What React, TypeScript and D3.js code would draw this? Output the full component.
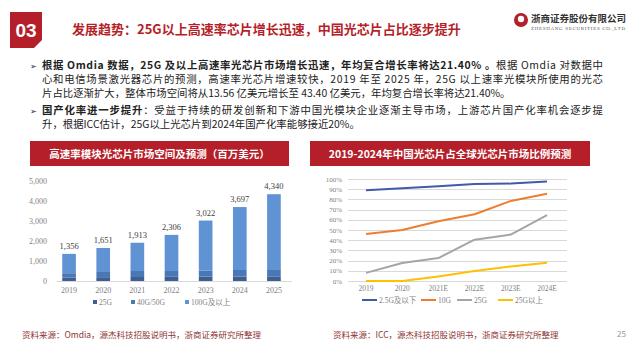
import React, { useEffect, useRef } from 'react';
import * as d3 from 'd3';

// 左图：高速率模块光芯片市场空间（百万美元）
const years = ['2019', '2020', '2021', '2022', '2023', '2024', '2025'];
const totals = [1356, 1651, 1913, 2306, 3022, 3697, 4340];
const g25 = [170, 190, 200, 210, 220, 220, 210];
const g40 = [220, 260, 300, 290, 310, 330, 380];
const stackKeys = ['25G', '40G/50G', '100G及以上'];
const leftTicks = [0, 1000, 2000, 3000, 4000, 5000];

// 右图：中国光芯片占全球比例
const years2 = ['2019', '2020', '2021E', '2022E', '2023E', '2024E'];
const share25Below = [0.89, 0.91, 0.93, 0.95, 0.955, 0.975];
const share10G = [0.46, 0.50, 0.585, 0.655, 0.785, 0.855];
const share25G = [0.08, 0.177, 0.225, 0.405, 0.455, 0.645];
const share25Above = [0, 0, 0.045, 0.097, 0.143, 0.18];
const seriesNames = ['2.5G及以下', '10G', '25G', '25G以上'];

const RED = '#b51f29';
const CJK = '"Noto Sans CJK SC", "Noto Sans", sans-serif';
const SERIF = '"Liberation Serif", "Noto Sans CJK SC", serif';

const App = () => {
  const svgRef = useRef(null);

  useEffect(() => {
    const svg = d3.select(svgRef.current);
    svg.selectAll('*').remove();
    const width = 640;
    const height = 359;
    svg.attr('width', width).attr('height', height);

    svg.append('rect').attr('width', width).attr('height', height).attr('fill', '#fff');

    // 页眉
    svg.append('path')
      .attr('d', 'M10,12 L42,12 L42,40 L34,48 L10,48 Z')
      .attr('fill', RED);
    svg.append('text')
      .attr('x', 26).attr('y', 37)
      .attr('text-anchor', 'middle')
      .attr('fill', '#fff')
      .style('font-family', '"Liberation Sans", Arial, sans-serif')
      .style('font-size', '19px')
      .style('font-weight', 'bold')
      .text('03');
    svg.append('text')
      .attr('x', 72).attr('y', 34)
      .attr('fill', RED)
      .style('font-family', CJK)
      .style('font-size', '13px')
      .style('font-weight', 'bold')
      .text('发展趋势：25G以上高速率芯片增长迅速，中国光芯片占比逐步提升');

    // logo
    svg.append('circle').attr('cx', 521).attr('cy', 20).attr('r', 7).attr('fill', RED);
    svg.append('circle').attr('cx', 521).attr('cy', 19).attr('r', 3.2).attr('fill', '#fff');
    svg.append('text')
      .attr('x', 531).attr('y', 22)
      .attr('fill', '#333')
      .style('font-family', CJK)
      .style('font-size', '9.5px')
      .style('font-weight', 'bold')
      .text('浙商证券股份有限公司');
    svg.append('text')
      .attr('x', 531).attr('y', 29.5)
      .attr('fill', '#555')
      .attr('textLength', 94)
      .style('font-family', SERIF)
      .style('font-size', '5px')
      .text('ZHESHANG SECURITIES CO.,LTD');

    // 正文
    const body = svg.append('g')
      .style('font-family', CJK)
      .style('font-size', '10.4px')
      .attr('fill', '#222');
    const lines = [
      { y: 69, bullet: true, parts: [['根据 Omdia 数据，25G 及以上高速率光芯片市场增长迅速，年均复合增长率将达21.40% 。', true], ['根据 Omdia 对数据中', false]], fit: 561 },
      { y: 83, parts: [['心和电信场景激光器芯片的预测，高速率光芯片增速较快，2019 年至 2025 年，25G 以上速率光模块所使用的光芯', false]], fit: 561 },
      { y: 97, parts: [['片占比逐渐扩大，整体市场空间将从13.56 亿美元增长至 43.40 亿美元，年均复合增长率将达21.40%。', false]] },
      { y: 114, bullet: true, parts: [['国产化率进一步提升', true], ['：受益于持续的研发创新和下游中国光模块企业逐渐主导市场，上游芯片国产化率机会逐步提', false]], fit: 561 },
      { y: 128, parts: [['升，根据ICC估计，25G以上光芯片到2024年国产化率能够接近20%。', false]] },
    ];
    lines.forEach(l => {
      if (l.bullet) {
        body.append('text')
          .attr('x', 30).attr('y', l.y)
          .style('font-family', '"DejaVu Sans", sans-serif')
          .style('font-size', '8px')
          .text('➢');
      }
      const t = body.append('text').attr('x', 42).attr('y', l.y);
      if (l.fit) t.attr('textLength', l.fit).attr('lengthAdjust', 'spacing');
      l.parts.forEach(([s, b]) => {
        t.append('tspan').style('font-weight', b ? 'bold' : 'normal').text(s);
      });
    });

    // 图表标题栏
    const bars = [
      { x: 30, w: 259, label: '高速率模块光芯片市场空间及预测（百万美元）' },
      { x: 310, w: 280, label: '2019-2024年中国光芯片占全球光芯片市场比例预测' },
    ];
    bars.forEach(b => {
      svg.append('rect')
        .attr('x', b.x).attr('y', 141).attr('width', b.w).attr('height', 25)
        .attr('fill', RED);
      svg.append('text')
        .attr('x', b.x + b.w / 2).attr('y', 157.5)
        .attr('text-anchor', 'middle')
        .attr('fill', '#fff')
        .style('font-family', CJK)
        .style('font-size', '10.5px')
        .style('font-weight', 'bold')
        .text(b.label);
    });

    // ---- 左图 堆叠柱状图 ----
    const x = d3.scaleBand().domain(years).range([52, 291]).paddingInner(0.6).paddingOuter(0.3);
    const y = d3.scaleLinear().domain([0, 5000]).range([281, 181]);
    const color = d3.scaleOrdinal().domain(stackKeys).range(['#3c5f94', '#4b78b4', '#5f93d3']);

    const rows = years.map((yr, i) => ({
      year: yr,
      '25G': g25[i],
      '40G/50G': g40[i],
      '100G及以上': totals[i] - g25[i] - g40[i],
    }));
    const stacked = d3.stack().keys(stackKeys)(rows);

    const left = svg.append('g');
    left.selectAll('.ytick')
      .data(leftTicks)
      .enter().append('text')
      .attr('x', 47).attr('y', d => y(d) + 3)
      .attr('text-anchor', 'end')
      .attr('fill', '#7f7f7f')
      .style('font-family', SERIF)
      .style('font-size', '8px')
      .text(d => d3.format(',')(d));

    left.selectAll('.layer')
      .data(stacked)
      .enter().append('g')
      .attr('fill', d => color(d.key))
      .selectAll('rect')
      .data(d => d)
      .enter().append('rect')
      .attr('x', d => x(d.data.year))
      .attr('y', d => y(d[1]))
      .attr('width', x.bandwidth())
      .attr('height', d => y(d[0]) - y(d[1]));

    left.append('line')
      .attr('x1', 57).attr('x2', 292)
      .attr('y1', 281.5).attr('y2', 281.5)
      .attr('stroke', '#d9d9d9');

    left.selectAll('.val')
      .data(totals)
      .enter().append('text')
      .attr('x', (d, i) => x(years[i]) + x.bandwidth() / 2)
      .attr('y', d => y(d) - 5)
      .attr('text-anchor', 'middle')
      .attr('fill', '#404040')
      .style('font-family', SERIF)
      .style('font-size', '8.5px')
      .text(d => d3.format(',')(d));

    left.selectAll('.xlab')
      .data(years)
      .enter().append('text')
      .attr('x', d => x(d) + x.bandwidth() / 2)
      .attr('y', 293)
      .attr('text-anchor', 'middle')
      .attr('fill', '#7f7f7f')
      .style('font-family', SERIF)
      .style('font-size', '8px')
      .text(d => d);

    const legX = [93, 131, 185];
    stackKeys.forEach((k, i) => {
      left.append('rect')
        .attr('x', legX[i]).attr('y', 300).attr('width', 4).attr('height', 4)
        .attr('fill', color(k));
      left.append('text')
        .attr('x', legX[i] + 6).attr('y', 304.5)
        .attr('fill', '#7f7f7f')
        .style('font-family', SERIF)
        .style('font-size', '7.5px')
        .text(k);
    });

    // ---- 右图 折线图 ----
    const x2 = d3.scalePoint().domain(years2).range([366, 547]);
    const y2 = d3.scaleLinear().domain([0, 1]).range([281, 179]);
    const right = svg.append('g');

    right.selectAll('.grid')
      .data(d3.range(0, 1.01, 0.1))
      .enter().append('line')
      .attr('x1', 348).attr('x2', 567)
      .attr('y1', d => Math.round(y2(d)) + 0.5).attr('y2', d => Math.round(y2(d)) + 0.5)
      .attr('stroke', '#d9d9d9');

    right.selectAll('.ytick')
      .data(d3.range(0, 1.01, 0.1))
      .enter().append('text')
      .attr('x', 342).attr('y', d => y2(d) + 2.5)
      .attr('text-anchor', 'end')
      .attr('fill', '#7f7f7f')
      .style('font-family', SERIF)
      .style('font-size', '7px')
      .text(d => d3.format('.0%')(d));

    right.selectAll('.xlab')
      .data(years2)
      .enter().append('text')
      .attr('x', d => x2(d)).attr('y', 291)
      .attr('text-anchor', 'middle')
      .attr('fill', '#7f7f7f')
      .style('font-family', SERIF)
      .style('font-size', '7.5px')
      .text(d => d);

    const lineSeries = [share25Below, share10G, share25G, share25Above];
    const lineColors = ['#3d5ca9', '#ed7d31', '#a5a5a5', '#ffc000'];
    const line = d3.line().x((d, i) => x2(years2[i])).y(d => y2(d));
    lineSeries.forEach((s, i) => {
      right.append('path')
        .datum(s)
        .attr('d', line)
        .attr('fill', 'none')
        .attr('stroke', lineColors[i])
        .attr('stroke-width', 2)
        .attr('stroke-linejoin', 'round');
    });

    const legLines = [362, 421, 457, 498];
    seriesNames.forEach((n, i) => {
      right.append('line')
        .attr('x1', legLines[i]).attr('x2', legLines[i] + 15)
        .attr('y1', 300).attr('y2', 300)
        .attr('stroke', lineColors[i]).attr('stroke-width', 2);
      right.append('text')
        .attr('x', legLines[i] + 17).attr('y', 302.5)
        .attr('fill', '#7f7f7f')
        .style('font-family', SERIF)
        .style('font-size', '7.5px')
        .text(n);
    });

    // 页脚
    const foot = [
      { x: 22, text: '资料来源：Omdia，源杰科技招股说明书，浙商证券研究所整理' },
      { x: 333, text: '资料来源：ICC，源杰科技招股说明书，浙商证券研究所整理' },
    ];
    foot.forEach(f => {
      svg.append('text')
        .attr('x', f.x).attr('y', 338)
        .attr('fill', '#8e3434')
        .style('font-family', CJK)
        .style('font-size', '8.5px')
        .text(f.text);
    });
    svg.append('text')
      .attr('x', 617).attr('y', 337)
      .attr('fill', '#999')
      .style('font-family', CJK)
      .style('font-size', '8px')
      .text('25');
  }, []);

  return (
    <div style={{ position: 'absolute', left: 0, top: 0, width: 640, height: 359 }}>
      <svg ref={svgRef} style={{ display: 'block' }} />
    </div>
  );
};

export default App;
